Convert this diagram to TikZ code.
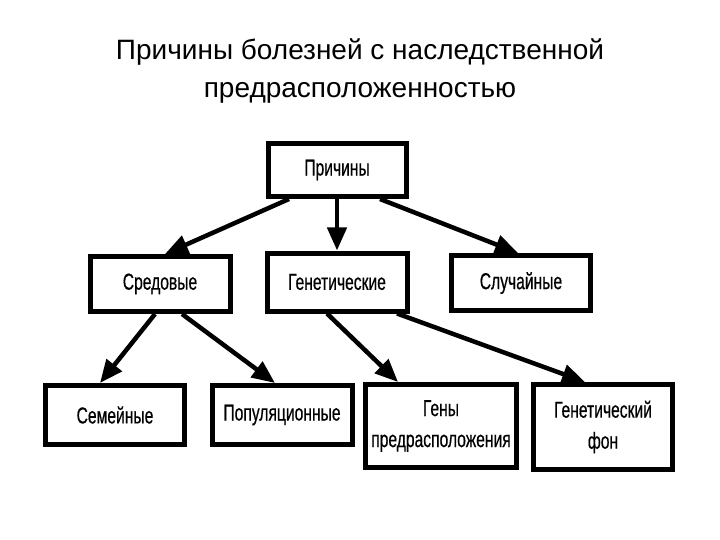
\documentclass[tikz,border=0pt]{standalone}
\usepackage{fontspec}
\setmainfont{Liberation Sans}
\newfontfamily\boxfont[FakeStretch=0.68,FakeBold=0.5]{Liberation Sans}
\usetikzlibrary{arrows.meta}
\tikzset{
	blk/.style={draw, line width=5pt, inner sep=0pt, align=center,
		font=\boxfont\fontsize{23}{31}\selectfont},
	arr/.style={line width=4.5pt, -{Triangle[length=23pt,width=19pt]}},
}
\begin{document}
\begin{tikzpicture}[x=1pt, y=-1pt]
		\useasboundingbox (0,0) rectangle (720,540);
		% title
		\node [align=center, font=\fontsize{28}{38}\selectfont] (title) at (360,71)
			{Причины болезней с наследственной\\предрасположенностью};
		% level 1
		\node [blk, minimum width=138pt, minimum height=53pt] (pr) at (337,170) {Причины};
		% level 2
		\node [blk, minimum width=140pt, minimum height=55pt] (sr) at (160,284) {Средовые};
		\node [blk, minimum width=140pt, minimum height=58pt] (gn) at (337,282) {Генетические};
		\node [blk, minimum width=139pt, minimum height=55pt] (sl) at (521,283) {Случайные};
		% level 3
		\node [blk, minimum width=139pt, minimum height=59pt] (sm) at (115,415) {Семейные};
		\node [blk, minimum width=140pt, minimum height=59pt] (pp) at (282,415) {Популяционные};
		\node [blk, minimum width=151pt, minimum height=83pt] (gp) at (441,426) {Гены\\предрасположения};
		\node [blk, minimum width=139pt, minimum height=85pt] (gf) at (603,427) {Генетический\\фон};
		\draw [arr] ([xshift=-48pt]pr.south) -- ([xshift=5pt]sr.north);
		\draw [arr] (pr.south) -- (gn.north);
		\draw [arr] ([xshift=43pt]pr.south) -- ([xshift=-3pt]sl.north);
		\draw [arr] ([xshift=-5pt]sr.south) -- ([xshift=-15pt]sm.north);
		\draw [arr] ([xshift=22pt]sr.south) -- ([xshift=-7pt]pp.north);
		\draw [arr] ([xshift=-10pt]gn.south) -- ([xshift=-43pt]gp.north);
		\draw [arr] ([xshift=60pt]gn.south) -- ([xshift=-18pt]gf.north);
	\end{tikzpicture}
\end{document}
